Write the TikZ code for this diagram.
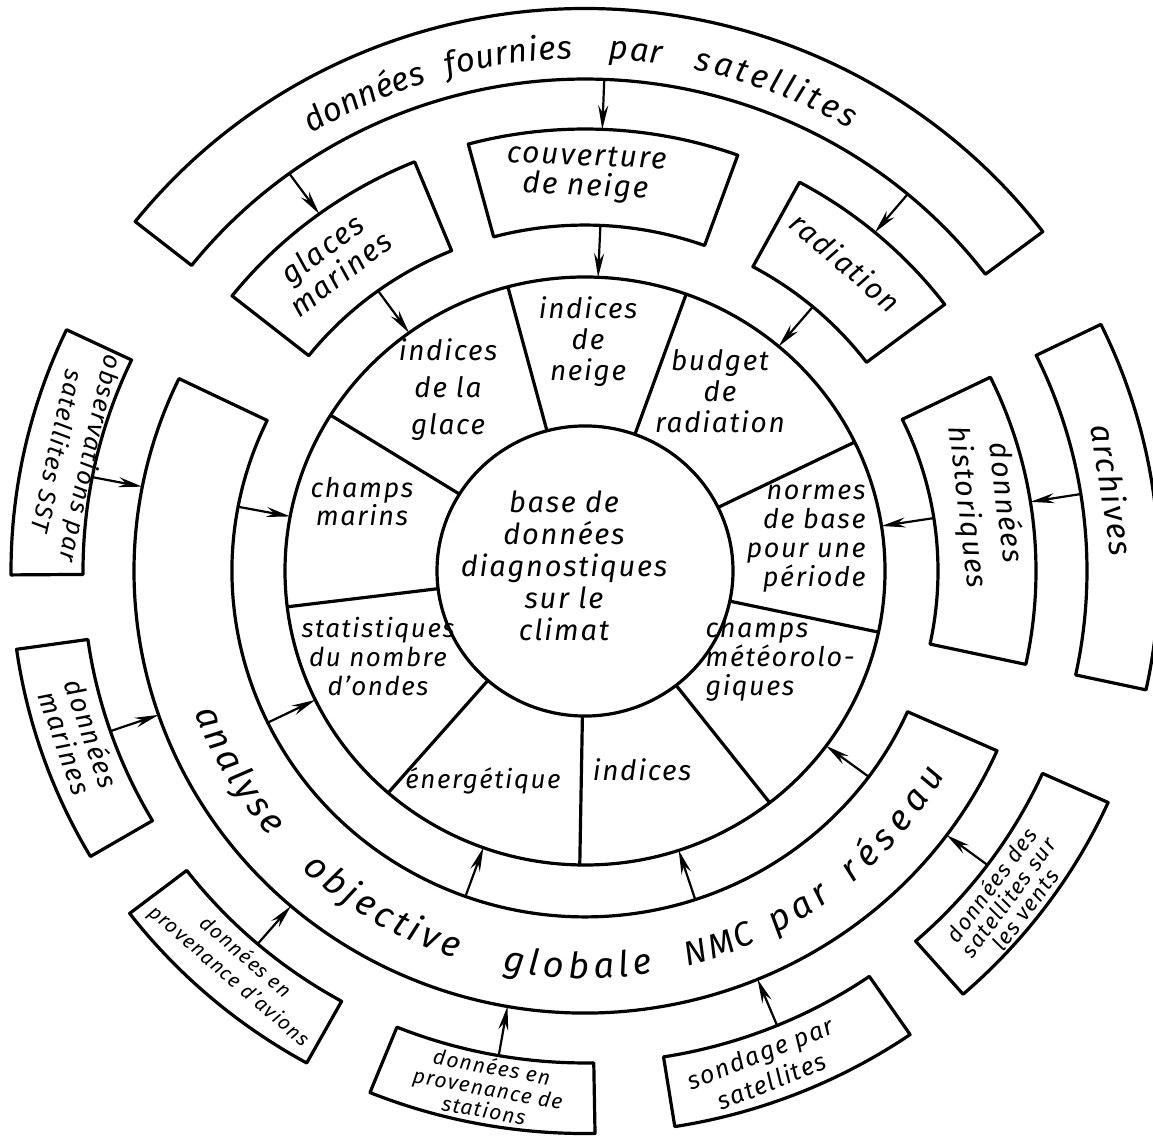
\documentclass[tikz,border=0pt]{standalone}
\usepackage{fontspec}
\setmainfont{Fira Sans}[LetterSpace=6]
\usetikzlibrary{arrows.meta,decorations.text}
\newcommand\fz[2]{\fontsize{#1}{#2}\selectfont\itshape}
\newcommand\annsec[4]{\draw (#3:#1) arc[start angle=#3,end angle=#4,radius=#1] -- (#4:#2) arc[start angle=#4,end angle=#3,radius=#2] -- cycle;}
\begin{document}
\begin{tikzpicture}[x=1pt,y=1pt,line width=3.2pt,line join=round,
  lbl/.style={inner sep=0pt,align=center},
  arr/.style={line width=2.2pt,-{Stealth[length=24pt,width=10pt,inset=8pt]}},
  arctext/.style={decorate,decoration={text along path,text align={fit to path}}}]
\fill[white] (0,0) rectangle (1153,1138);
\useasboundingbox (0,0) rectangle (1153,1138);
\begin{scope}[shift={(585,567)},yscale=0.98]
  % central disc and segmented ring
  \draw (0,0) circle[radius=148];
  \draw (0,0) circle[radius=300];
  \foreach \a in {26,70.3,104.9,148,187,229,269,308,348}
    \draw (\a:148) -- (\a:300);
  % middle layer
  \annsec{353}{451}{154.2}{336}     % analyse objective
  \annsec{353}{451}{70.2}{105}      % couverture de neige
  \annsec{353}{451}{112.2}{141.5}   % glaces marines
  \annsec{353}{451}{37.1}{61.6}     % radiation
  \annsec{353}{451}{-12.2}{26}      % donnees historiques
  % outer layer
  \annsec{502}{574}{37.1}{141.6}    % donnees fournies par satellites
  \annsec{502}{574}{-12.2}{26}      % archives
  \annsec{502}{574}{154.6}{180.4}   % observations SST
  \annsec{502}{574}{188}{210.5}     % donnees marines
  \annsec{502}{574}{217.5}{241}     % avions
  \annsec{502}{574}{248}{271}       % stations
  \annsec{502}{574}{279}{304.5}     % sondage
  \annsec{502}{574}{311.2}{335.7}   % vents
  % arrows
  \foreach \n/\a/\ra/\rb in {1/87.8/502/451, 2/87.5/353/300, 3/126.1/502/451, 4/125.9/353/300,
      5/50/502/451, 6/49.8/353/300, 7/9/502/451, 8/8.8/353/300, 9/169/502/451,
      10/169.3/353/300, 11/199/502/451, 12/206/353/300, 13/229.3/502/451,
      14/260.1/502/451, 15/250.2/353/300, 16/292.5/502/451, 17/288.2/353/300,
      18/323.3/502/451, 19/323.5/353/300}{
    \coordinate (s\n) at (\a:\ra);
    \coordinate (t\n) at (\a:\rb);
    \draw[arr] (s\n) -- (t\n);
  }
  % curved texts
  \path[arctext,decoration={text={|\fz{33}{33}|données}}] (121.5:523) arc[start angle=121.5,end angle=108.1,radius=523];
  \path[arctext,decoration={text={|\fz{33}{33}|fournies}}] (105.3:523) arc[start angle=105.3,end angle=91.4,radius=523];
  \path[arctext,decoration={text={|\fz{33}{33}|par}}] (87.4:523) arc[start angle=87.4,end angle=81.6,radius=523];
  \path[arctext,decoration={text={|\fz{33}{33}|satellites}}] (78:523) arc[start angle=78,end angle=59.6,radius=523];
  \path[arctext,decoration={text={|\fz{36}{36}|analyse}}] (200.3:416) arc[start angle=200.3,end angle=220.6,radius=416];
  \path[arctext,decoration={text={|\fz{36}{36}|objective}}] (227:416) arc[start angle=227,end angle=252,radius=416];
  \path[arctext,decoration={text={|\fz{36}{36}|globale}}] (258.5:416) arc[start angle=258.5,end angle=279.4,radius=416];
  \path[arctext,decoration={text={|\fz{34}{34}|NMC}}] (284.3:416) arc[start angle=284.3,end angle=294.3,radius=416];
  \path[arctext,decoration={text={|\fz{36}{36}|par}}] (297.2:416) arc[start angle=297.2,end angle=306.3,radius=416];
  \path[arctext,decoration={text={|\fz{36}{36}|réseau}}] (310:416) arc[start angle=310,end angle=330,radius=416];
\end{scope}
% texts of the centre and of the segments
\node[lbl,font=\fz{29}{32}] (centre) at (564,572) {base de\\données\\diagnostiques\\sur le\\climat};
\node[lbl,font=\fz{28}{37}] (sglace) at (448,748) {indices\\de la\\glace};
\node[lbl,font=\fz{28}{31}] (sneige) at (588,796) {indices\\de\\neige};
\node[lbl,font=\fz{28}{31}] (sbudget) at (720,747) {budget\\de\\radiation};
\node[lbl,align=right,font=\fz{27}{29}] (snormes) at (806,599) {normes\\de base\\pour une\\période};
\node[lbl,align=left,font=\fz{27}{29}] (smeteo) at (780,479) {champs\\météorolo-\\giques};
\node[lbl,font=\fz{28}{30}] (sindices) at (642,368) {indices};
\node[lbl,font=\fz{26}{30}] (senergie) at (483,357) {énergétique};
\node[lbl,font=\fz{26}{29}] (sstat) at (378,481) {statistiques\\du nombre\\d'ondes};
\node[lbl,font=\fz{27}{25}] (smarins) at (362,636) {champs\\marins};
% texts of the boxes
\node[lbl,rotate=-2.4,font=\fz{30}{30}] (tcouv) at (586,964) {couverture\\de neige};
\node[lbl,rotate=36.9,font=\fz{30}{31}] (tglaces) at (331,877) {glaces\\marines};
\node[lbl,rotate=-40.6,font=\fz{29}{30}] (trad) at (846,876) {radiation};
\node[lbl,rotate=-83.1,font=\fz{29}{38}] (thist) at (986,633) {données\\historiques};
\node[lbl,rotate=-81,font=\fz{32}{32}] (tarch) at (1113,648) {archives};
\node[lbl,rotate=-102.5,font=\fz{25}{34}] (tsst) at (75,683) {observations par\\satellites SST};
\node[lbl,rotate=-70.75,font=\fz{27}{28}] (tmar) at (79,400) {données\\marines};
\node[lbl,rotate=-40.75,font=\fz{20}{25}] (tavi) at (237,171) {données en\\provenance d'avions};
\node[lbl,rotate=-10.5,font=\fz{21}{22}] (tsta) at (488,50) {données en\\provenance de\\stations};
\node[lbl,rotate=21.75,font=\fz{25}{30}] (tson) at (766,71) {sondage par\\satellites};
\node[lbl,rotate=53.5,font=\fz{22}{21}] (tven) at (1008,241) {données des\\satellites sur\\les vents};
\end{tikzpicture}
\end{document}
